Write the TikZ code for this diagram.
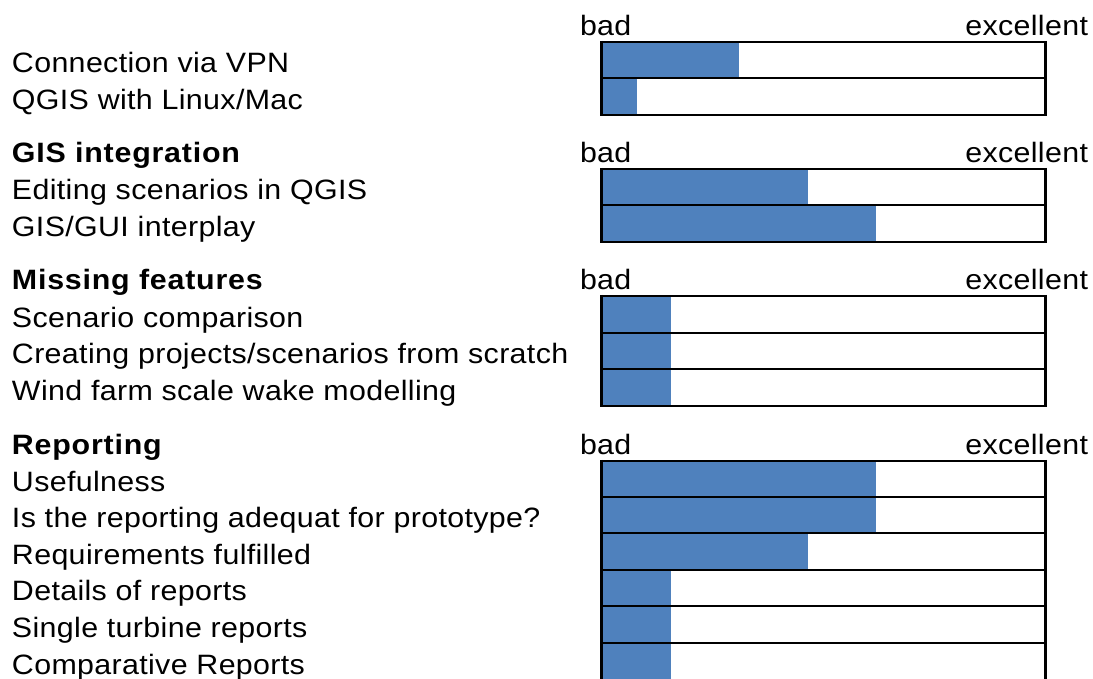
\documentclass[tikz,border=0pt]{standalone}
\usepackage{fontspec}
\setmainfont{Liberation Sans}[FakeStretch=1.085, LetterSpace=1.25]
\newfontfamily\headfont{Liberation Sans Bold}[FakeStretch=1.085, LetterSpace=2.8]
\definecolor{barblue}{HTML}{4F81BD}
\tikzset{
  lbl/.style={anchor=base west, inner sep=0pt, outer sep=0pt, font=\fontsize{28}{30}\selectfont},
  hdr/.style={lbl, font=\fontsize{28}{30}\headfont},
  rlbl/.style={lbl, anchor=base east},
  bar/.style={fill=barblue},
  rule/.style={line width=2.5pt, black},
  edge/.style={line width=3pt, black},
}
% one rated item: top, bottom, end of bar, label, node name
\newcommand\ratingrow[5]{%
  \fill[bar] (603,#1) rectangle (#3,#2);
  \node[lbl] (#5) at (12,{(#1+#2)/2+12.5}) {#4};
}
% scale header above a group: baseline, suffix
\newcommand\scalehead[2]{%
  \node[lbl] (bad#2) at (580,#1) {bad};
  \node[rlbl] (exc#2) at (1088,#1) {excellent};
}
% frame of a group: top, bottom, list of inner rule positions
\newcommand\groupframe[3]{%
  \foreach \y in {#1,#3,#2} \draw[rule] (601,\y) -- (1047,\y);
  \draw[edge] (601.5,#1-1.25) -- (601.5,#2+1.25);
  \draw[edge] (1045.5,#1-1.25) -- (1045.5,#2+1.25);
}
\begin{document}
\begin{tikzpicture}[x=1pt,y=-1pt]
  \fill[white] (0,0) rectangle (1093,678);
  \useasboundingbox (0,0) rectangle (1093,678);

  % access
  \scalehead{35}{1}
  \ratingrow{42}{78}{739}{Connection via VPN}{vpn}
  \ratingrow{78}{115}{637}{QGIS with Linux/Mac}{linux}
  \groupframe{42}{115}{78}

  % GIS integration
  \node[hdr] (gis) at (12,162) {GIS integration};
  \scalehead{162}{2}
  \ratingrow{169}{205}{808}{Editing scenarios in QGIS}{editing}
  \ratingrow{205}{242}{876}{GIS/GUI interplay}{interplay}
  \groupframe{169}{242}{205}

  % missing features
  \node[hdr] (missing) at (12,289) {Missing features};
  \scalehead{289}{3}
  \ratingrow{296}{333}{671}{Scenario comparison}{comparison}
  \ratingrow{333}{369}{671}{Creating projects/scenarios from scratch}{scratch}
  \ratingrow{369}{406}{671}{Wind farm scale wake modelling}{wake}
  \groupframe{296}{406}{333,369}

  % reporting
  \node[hdr] (reporting) at (12,454) {Reporting};
  \scalehead{454}{4}
  \ratingrow{461}{497}{876}{Usefulness}{usefulness}
  \ratingrow{497}{533}{876}{Is the reporting adequat for prototype?}{adequat}
  \ratingrow{533}{570}{808}{Requirements fulfilled}{requirements}
  \ratingrow{570}{606}{671}{Details of reports}{details}
  \ratingrow{606}{643}{671}{Single turbine reports}{single}
  \ratingrow{643}{680}{671}{Comparative Reports}{comparative}
  \groupframe{461}{680}{497,533,570,606,643}
\end{tikzpicture}
\end{document}
